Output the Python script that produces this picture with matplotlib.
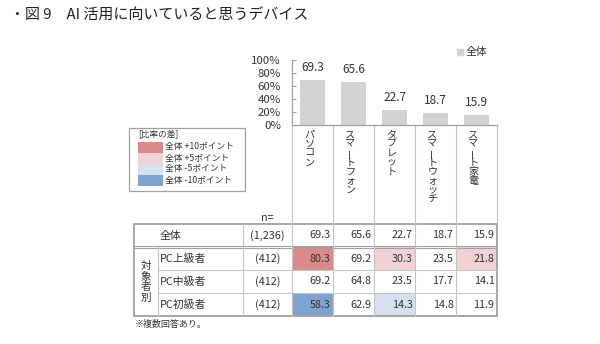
import matplotlib
matplotlib.use("Agg")
import matplotlib.pyplot as plt
from matplotlib.patches import Rectangle

plt.rcParams['font.family'] = ['Noto Sans CJK JP', 'DejaVu Sans']

# data
devices = ["パソコン", "スマートフォン", "タブレット", "スマートウォッチ", "スマート家電"]
total = [69.3, 65.6, 22.7, 18.7, 15.9]
groups = ["PC上級者", "PC中級者", "PC初級者"]
group_n = ["(412)", "(412)", "(412)"]
total_n = "(1,236)"
adv = [80.3, 69.2, 30.3, 23.5, 21.8]
mid = [69.2, 64.8, 23.5, 17.7, 14.1]
beg = [58.3, 62.9, 14.3, 14.8, 11.9]
yticks = [0, 20, 40, 60, 80, 100]
legend_labels = ["全体 +10ポイント", "全体 +5ポイント", "全体 -5ポイント", "全体 -10ポイント"]

# colours
bar_col = "#D3D3D3"
c_p10, c_p5, c_m5, c_m10 = "#DA8A8A", "#F2D3D5", "#D5E1EF", "#7FA3CF"
line_col = "#C4C4C4"
edge_col = "#A0A0A0"
txt = "#333333"


def diff_colour(v, t):
    d = v - t
    if d >= 10:
        return c_p10
    if d >= 5:
        return c_p5
    if d <= -10:
        return c_m10
    if d <= -5:
        return c_m5
    return None


W, H = 600, 344
fig = plt.figure(figsize=(6, 3.44), dpi=100)

# overlay in pixel coords
ov = fig.add_axes([0, 0, 1, 1])
ov.set_xlim(0, W)
ov.set_ylim(H, 0)
ov.axis("off")

x0, x1 = 292, 497
y_top, y_base = 60, 125
col_w = (x1 - x0) / len(devices)

# bar chart
ax = fig.add_axes([x0 / W, 1 - y_base / H, (x1 - x0) / W, (y_base - y_top) / H])
xs = range(len(devices))
ax.bar(xs, total, width=0.63, color=bar_col, label="全体")
for i, v in enumerate(total):
    ax.annotate(f"{v:.1f}", (i, v), xytext=(0, 9), textcoords="offset points",
                ha="center", va="center", fontsize=8.5, color=txt)
ax.set_xlim(-0.5, len(devices) - 0.5)
ax.set_ylim(0, 100)
ax.set_xticks([])
ax.set_yticks(yticks)
ax.set_yticklabels([f"{t}%" for t in yticks])
ax.tick_params(axis="y", direction="in", length=3, color=edge_col, labelsize=8.2, pad=8,
               labelcolor=txt)
for s in ["top", "right"]:
    ax.spines[s].set_visible(False)
for s in ["left", "bottom"]:
    ax.spines[s].set_color(edge_col)
    ax.spines[s].set_linewidth(0.9)
ax.patch.set_alpha(0)

# legend for bars
ov.add_patch(Rectangle((457, 49), 6, 6, color=bar_col))
ov.text(466, 52, "全体", fontsize=7.8, va="center", color=txt)

# title
ov.text(10, 16, "・図 9　AI 活用に向いていると思うデバイス", fontsize=10.8, va="center", color="#222222")

# table geometry
t_left, sub_col, n_left = 134, 158, 243
rows_y = [224, 247, 270, 293, 316]

# vertical category labels
for i, name in enumerate(devices):
    cx = x0 + col_w * (i + 0.5) - 3
    for k, ch in enumerate(name):
        ov.text(cx, 134.5 + k * 9.3, ch, fontsize=7.3, ha="center", va="center",
                rotation=90 if ch == "ー" else 0, color=txt)

# header column lines
for i in range(len(devices) + 1):
    ov.plot([x0 + i * col_w] * 2, [y_base, rows_y[0]], color=line_col, lw=0.8)

# cell fills
for r, vals in enumerate([adv, mid, beg]):
    for i, v in enumerate(vals):
        c = diff_colour(v, total[i])
        if c:
            ov.add_patch(Rectangle((x0 + i * col_w, rows_y[r + 1]), col_w, rows_y[r + 2] - rows_y[r + 1],
                                   color=c, lw=0))

# table lines
for y in rows_y[2:4]:
    ov.plot([sub_col, x1], [y, y], color=line_col, lw=0.8)
ov.plot([t_left, x1], [rows_y[1] - 0.8, rows_y[1] - 0.8], color=edge_col, lw=0.8)
ov.plot([t_left, x1], [rows_y[1] + 0.8, rows_y[1] + 0.8], color=edge_col, lw=0.8)
ov.plot([sub_col, sub_col], [rows_y[1], rows_y[-1]], color=line_col, lw=0.8)
ov.plot([n_left, n_left], [rows_y[0], rows_y[-1]], color=line_col, lw=0.8)
for i in range(len(devices)):
    ov.plot([x0 + i * col_w] * 2, [rows_y[0], rows_y[-1]], color=line_col, lw=0.8)
ov.add_patch(Rectangle((t_left, rows_y[0]), x1 - t_left, rows_y[-1] - rows_y[0],
                       fill=False, edgecolor=edge_col, lw=1.3))

# table text
fs = 7.8
ov.text((n_left + x0) / 2, 218, "n=", fontsize=fs, ha="center", va="center", color=txt)
row_labels = ["全体"] + groups
row_n = [total_n] + group_n
row_vals = [total, adv, mid, beg]
for r in range(4):
    yc = (rows_y[r] + rows_y[r + 1]) / 2
    ov.text(160, yc, row_labels[r], fontsize=fs, va="center", color=txt)
    ov.text((n_left + x0) / 2, yc, row_n[r], fontsize=fs, ha="center", va="center", color=txt)
    for i, v in enumerate(row_vals[r]):
        ov.text(x0 + (i + 1) * col_w - 2.5, yc, f"{v:.1f}", fontsize=fs, ha="right", va="center",
                color=txt)

for k, ch in enumerate("対象者別"):
    ov.text(146, 266 + k * 10.7, ch, fontsize=7.6, ha="center", va="center", color=txt)

ov.text(135, 324, "※複数回答あり。", fontsize=6.5, va="center", color=txt)

# difference legend
ov.add_patch(Rectangle((129, 128), 116, 63, fill=False, edgecolor=edge_col, lw=0.9))
ov.text(138, 135, "[比率の差]", fontsize=6.2, va="center", color=txt)
for k, (lab, c) in enumerate(zip(legend_labels, [c_p10, c_p5, c_m5, c_m10])):
    ov.add_patch(Rectangle((138, 141.5 + k * 11), 25, 11, color=c, lw=0))
    ov.text(165, 147 + k * 11, lab, fontsize=6.3, va="center", color=txt)

fig.savefig("out.png", dpi=100)
